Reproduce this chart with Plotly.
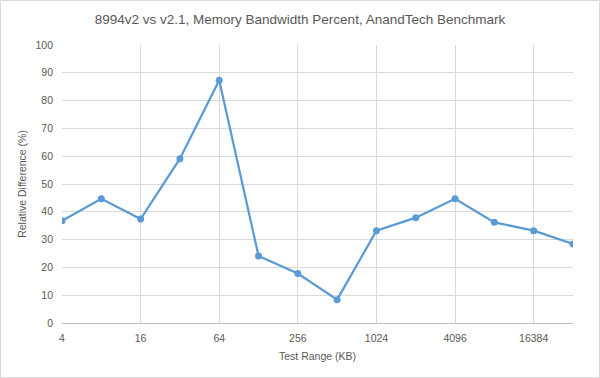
import plotly.graph_objects as go

test_range_kb = [4, 8, 16, 32, 64, 128, 256, 512, 1024, 2048, 4096, 8192, 16384, 32768]
relative_diff = [36.8, 44.7, 37.4, 59.1, 87.3, 24.1, 17.8, 8.4, 33.2, 37.9, 44.7, 36.2, 33.2, 28.4]
x_tick_vals = [4, 16, 64, 256, 1024, 4096, 16384]
x_tick_text = ["4", "16", "64", "256", "1024", "4096", "16384"]

W, H = 600, 378
L, R, T, B = 62, 27, 45, 55
FONT = "Liberation Sans, Arial, sans-serif"

fig = go.Figure()
fig.add_trace(go.Scatter(
    x=test_range_kb, y=relative_diff, mode="lines+markers",
    line=dict(color="#5B9BD5", width=2.25),
    marker=dict(color="#5B9BD5", size=7),
    showlegend=False,
))

pw = W - L - R
ph = H - T - B
fig.add_shape(type="rect", xref="paper", yref="paper",
              x0=(0.5 - L) / pw, x1=(W - 0.5 - L) / pw,
              y0=-(B - 0.5) / ph, y1=1 + (T - 0.5) / ph,
              line=dict(color="#D9D9D9", width=1), layer="below")

fig.update_layout(
    width=W, height=H,
    margin=dict(l=L, r=R, t=T, b=B),
    paper_bgcolor="white", plot_bgcolor="white",
    font=dict(family=FONT, color="#595959", size=10.5),
    title=dict(text="8994v2 vs v2.1, Memory Bandwidth Percent, AnandTech Benchmark",
               x=0.5, xanchor="center", y=1 - 19 / H, yanchor="middle",
               font=dict(size=13.5, color="#595959")),
    xaxis=dict(type="log", range=[0.60206, 4.51545],
               tickvals=x_tick_vals, ticktext=x_tick_text,
               showgrid=True, gridcolor="#D9D9D9", gridwidth=1,
               showline=True, linecolor="#BFBFBF", linewidth=1,
               ticks="", zeroline=False, ticklabelstandoff=5,
               title=dict(text="Test Range (KB)", font=dict(size=10.5), standoff=10)),
    yaxis=dict(range=[0, 100], dtick=10,
               showgrid=True, gridcolor="#D9D9D9", gridwidth=1,
               showline=False, zeroline=False, ticks="",
               ticklabelstandoff=8,
               title=dict(text="Relative Difference (%)", font=dict(size=10.5), standoff=6)),
)

fig.write_html("out.html", config={"displayModeBar": False},
               post_script="document.body.style.margin='0';")
